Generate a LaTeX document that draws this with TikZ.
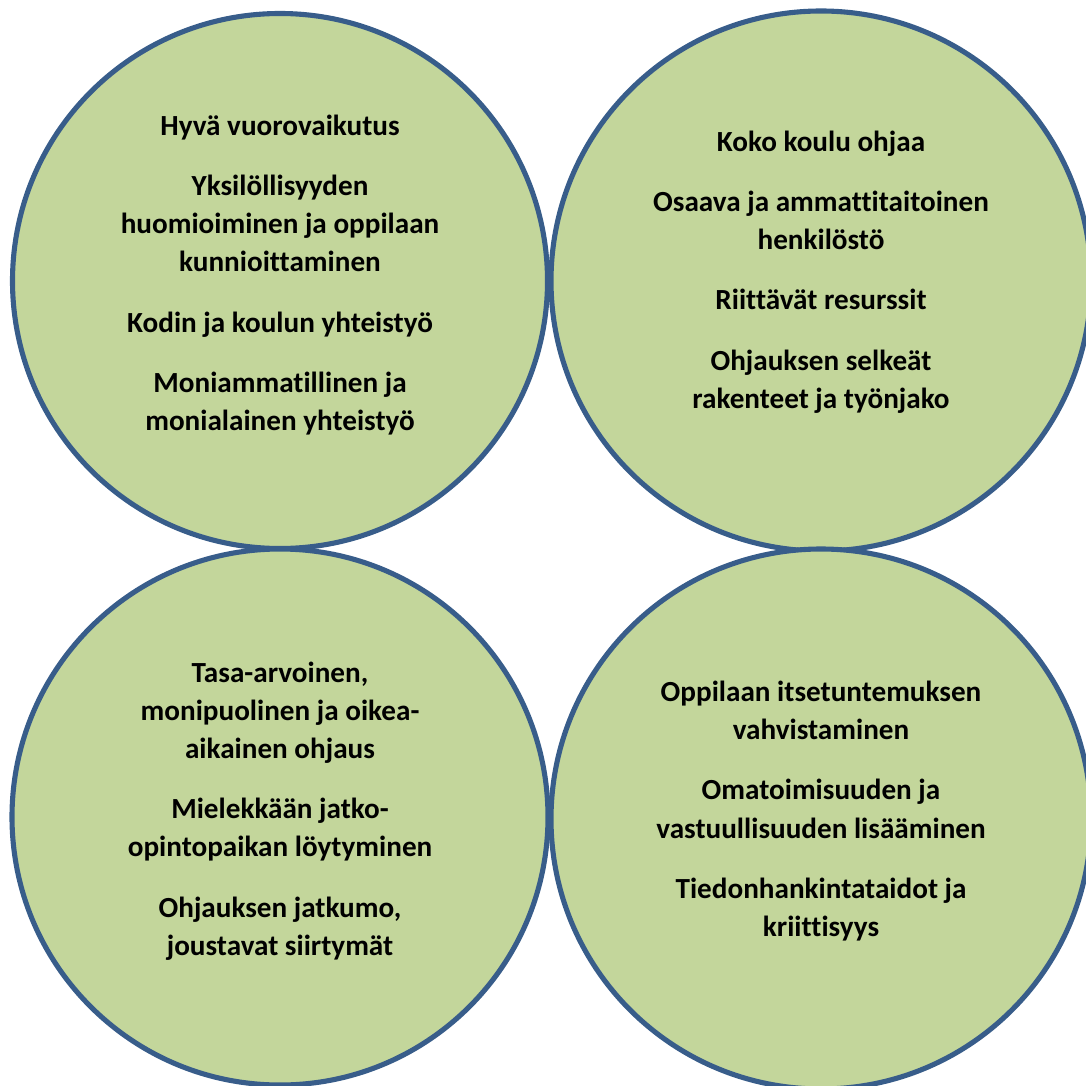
\documentclass[tikz,border=0pt]{standalone}
\usepackage{fontspec}
\setmainfont{Carlito}[Ligatures=NoCommon]
\usetikzlibrary{positioning}
\definecolor{pallovihrea}{RGB}{195,214,155}
\definecolor{reunasininen}{RGB}{56,93,138}

\begin{document}
\begin{tikzpicture}[
    pallo/.style={circle, fill=pallovihrea, draw=reunasininen, line width=1.45pt, inner sep=0pt},
    teksti/.style={align=center, font=\bfseries\fontsize{8.3}{10.85}\selectfont, text=black}
]

    \useasboundingbox (0,0) rectangle (10.86,-10.86);

    % neljä palloa
    \node[pallo, minimum size=5.35cm] (ylavasen) at (2.80,-2.81) {};
    \node[pallo, minimum size=5.40cm] (ylaoikea) at (8.21,-2.81) {};
    \node[pallo, minimum size=5.36cm] (alavasen) at (2.80,-8.17) {};
    \node[pallo, minimum size=5.40cm] (alaoikea) at (8.21,-8.19) {};

    \node[teksti, yshift=0.6mm] (t1) at (ylavasen.center) {Hyvä vuorovaikutus\\[6.3pt]
        Yksilöllisyyden\\ huomioiminen ja oppilaan\\ kunnioittaminen\\[6.3pt]
        Kodin ja koulun yhteistyö\\[6.3pt]
        Moniammatillinen ja\\ monialainen yhteistyö};

    \node[teksti, yshift=0.9mm] (t2) at (ylaoikea.center) {Koko koulu ohjaa\\[6.3pt]
        Osaava ja ammattitaitoinen\\ henkilöstö\\[6.3pt]
        Riittävät resurssit\\[6.3pt]
        Ohjauksen selkeät\\ rakenteet ja työnjako};

    \node[teksti, yshift=0.6mm] (t3) at (alavasen.center) {Tasa-arvoinen,\\ monipuolinen ja oikea-\\ aikainen ohjaus\\[6.3pt]
        Mielekkään jatko-\\ opintopaikan löytyminen\\[6.3pt]
        Ohjauksen jatkumo,\\ joustavat siirtymät};

    \node[teksti, yshift=0.8mm] (t4) at (alaoikea.center) {Oppilaan itsetuntemuksen\\ vahvistaminen\\[6.3pt]
        Omatoimisuuden ja\\ vastuullisuuden lisääminen\\[6.3pt]
        Tiedonhankintataidot ja\\ kriittisyys};

\end{tikzpicture}
\end{document}
